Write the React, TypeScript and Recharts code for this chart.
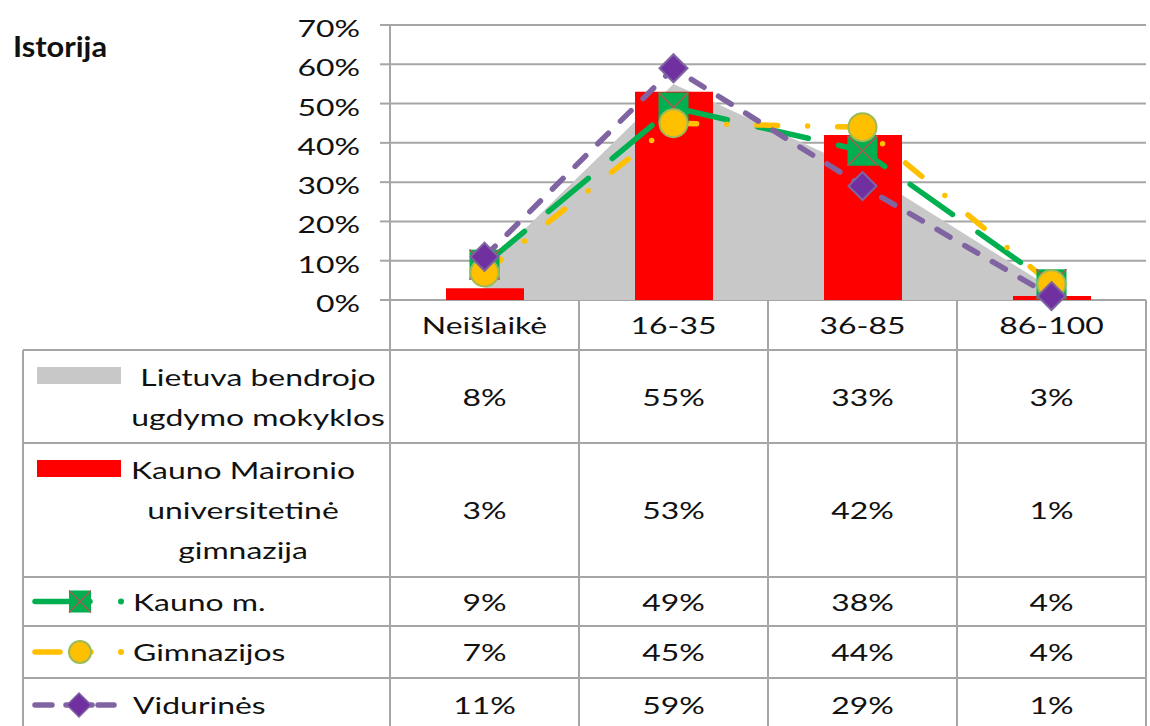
import React from "react";
import { ComposedChart, Area, Bar, Line, XAxis, YAxis, CartesianGrid } from "recharts";

const categories = ["Neišlaikė", "16-35", "36-85", "86-100"];
const lietuva = [0.08, 0.55, 0.33, 0.03];
const maironio = [0.03, 0.53, 0.42, 0.01];
const kaunas = [0.09, 0.49, 0.38, 0.04];
const gimnazijos = [0.07, 0.45, 0.44, 0.04];
const vidurines = [0.11, 0.59, 0.29, 0.01];
const yTicks = [0, 0.1, 0.2, 0.3, 0.4, 0.5, 0.6, 0.7];

const seriesLabels = [
  ["Lietuva bendrojo", "ugdymo mokyklos"],
  ["Kauno Maironio", "universitetinė", "gimnazija"],
  ["Kauno m."],
  ["Gimnazijos"],
  ["Vidurinės"],
];
const seriesValues = [lietuva, maironio, kaunas, gimnazijos, vidurines];

const W = 1150;
const H = 726;
const FONT = "Lato, 'Noto Sans', sans-serif";
const SX = 1.33;
const FS = 24;
const WEIGHT = 400;
const GRID = "#A6A6A6";

const GREEN = "#00B050";
const YELLOW = "#FFC000";
const PURPLE = "#8064A2";

const data = categories.map((c, i) => ({
  name: c,
  lietuva: lietuva[i],
  maironio: maironio[i],
  kaunas: kaunas[i],
  gimnazijos: gimnazijos[i],
  vidurines: vidurines[i],
}));

const pct = (v: number) => `${Math.round(v * 100)}%`;

// table geometry
const plotLeft = 390;
const plotRight = 1146;
const plotBottom = 300;
const tableLeft = 23;
const rowY = [300, 350, 443, 577, 626, 678, 740];
const colX = categories.map((_, i) => plotLeft + ((plotRight - plotLeft) / categories.length) * i).concat(plotRight);

function Txt({ x, y, anchor = "middle", size = FS, weight = WEIGHT, sx = SX, children }: any) {
  return (
    <text
      transform={`translate(${x},${y}) scale(${sx},1)`}
      textAnchor={anchor}
      fontFamily={FONT}
      fontSize={size}
      fontWeight={weight}
      fill="#111"
    >
      {children}
    </text>
  );
}

const YTick = ({ x, y, payload }: any) => (
  <Txt x={x} y={y + 12} anchor="end">
    {pct(payload.value)}
  </Txt>
);

const SquareDot = ({ cx, cy }: any) => {
  if (cx == null || cy == null) return null;
  const s = 15;
  return (
    <g>
      <rect x={cx - s} y={cy - s} width={2 * s} height={2 * s} fill={GREEN} />
      <path d={`M${cx - s},${cy - s}L${cx + s},${cy + s}M${cx + s},${cy - s}L${cx - s},${cy + s}`} stroke="#B5584F" strokeWidth={1.5} />
    </g>
  );
};

const CircleDot = ({ cx, cy }: any) => {
  if (cx == null || cy == null) return null;
  return <circle cx={cx} cy={cy} r={14} fill={YELLOW} stroke="#9BBB59" strokeWidth={2} />;
};

const DiamondDot = ({ cx, cy }: any) => {
  if (cx == null || cy == null) return null;
  const s = 14;
  return <path d={`M${cx},${cy - s}L${cx + s},${cy}L${cx},${cy + s}L${cx - s},${cy}Z`} fill="#7030A0" stroke={PURPLE} strokeWidth={2} />;
};

function LegendKey({ idx, cy }: { idx: number; cy: number }) {
  if (idx === 0) return <rect x={37} y={cy - 8} width={84} height={17} fill="#C8C8C8" />;
  if (idx === 1) return <rect x={37} y={cy - 8} width={84} height={17} fill="#FF0000" />;
  if (idx === 2)
    return (
      <g>
        <line x1={35} y1={cy} x2={90} y2={cy} stroke={GREEN} strokeWidth={5.5} strokeLinecap="round" />
        <rect x={69} y={cy - 11} width={22} height={22} fill={GREEN} />
        <path d={`M69,${cy - 11}L91,${cy + 11}M91,${cy - 11}L69,${cy + 11}`} stroke="#B5584F" strokeWidth={1.2} />
        <circle cx={121} cy={cy} r={3} fill={GREEN} />
      </g>
    );
  if (idx === 3)
    return (
      <g>
        <line x1={35} y1={cy} x2={60} y2={cy} stroke={YELLOW} strokeWidth={5.5} strokeLinecap="round" />
        <line x1={86} y1={cy} x2={91} y2={cy} stroke={YELLOW} strokeWidth={5.5} strokeLinecap="round" />
        <circle cx={80} cy={cy} r={11} fill={YELLOW} stroke="#9BBB59" strokeWidth={2} />
        <circle cx={121} cy={cy} r={3} fill={YELLOW} />
      </g>
    );
  return (
    <g>
      <line x1={35} y1={cy} x2={52} y2={cy} stroke={PURPLE} strokeWidth={5.5} strokeLinecap="round" />
      <line x1={66} y1={cy} x2={92} y2={cy} stroke={PURPLE} strokeWidth={5.5} strokeLinecap="round" />
      <line x1={98} y1={cy} x2={114} y2={cy} stroke={PURPLE} strokeWidth={5.5} strokeLinecap="round" />
      <path d={`M79,${cy - 12}L91,${cy}L79,${cy + 12}L67,${cy}Z`} fill="#7030A0" stroke={PURPLE} strokeWidth={1.5} />
    </g>
  );
}

function DataTable() {
  const lineH = 40;
  const labelCenters = [258, 243];
  return (
    <svg width={W} height={H} style={{ position: "absolute", left: 0, top: 0 }}>
      {/* horizontal lines */}
      <line x1={plotLeft} y1={rowY[0]} x2={plotRight} y2={rowY[0]} stroke={GRID} strokeWidth={2} />
      {rowY.slice(1, -1).map((y) => (
        <line key={y} x1={tableLeft} y1={y} x2={plotRight} y2={y} stroke={GRID} strokeWidth={2} />
      ))}
      {/* vertical lines */}
      <line x1={tableLeft} y1={rowY[1]} x2={tableLeft} y2={H} stroke={GRID} strokeWidth={2} />
      {colX.map((x) => (
        <line key={x} x1={x} y1={rowY[0]} x2={x} y2={H} stroke={GRID} strokeWidth={2} />
      ))}
      {/* header */}
      {categories.map((c, i) => (
        <Txt key={c} x={(colX[i] + colX[i + 1]) / 2} y={(rowY[0] + rowY[1]) / 2 + 9}>
          {c}
        </Txt>
      ))}
      {/* rows */}
      {seriesLabels.map((lines, r) => {
        const top = rowY[r + 1];
        const bottom = rowY[r + 2];
        const mid = r === 4 ? 705 : (top + bottom) / 2;
        const firstY = mid - ((lines.length - 1) * lineH) / 2;
        return (
          <g key={r}>
            <LegendKey idx={r} cy={lines.length > 1 ? top + 25 : mid} />
            {lines.map((t, k) =>
              lines.length > 1 ? (
                <Txt key={k} x={labelCenters[r]} y={firstY + k * lineH + 9}>
                  {t}
                </Txt>
              ) : (
                <Txt key={k} x={133} y={mid + 9} anchor="start">
                  {t}
                </Txt>
              )
            )}
            {seriesValues[r].map((v, i) => (
              <Txt key={i} x={(colX[i] + colX[i + 1]) / 2} y={mid + 9}>
                {pct(v)}
              </Txt>
            ))}
          </g>
        );
      })}
    </svg>
  );
}

export default function App() {
  return (
    <div style={{ position: "absolute", left: 0, top: 0, width: W, height: H, background: "#fff", overflow: "hidden" }}>
      <DataTable />
      <svg width={W} height={80} style={{ position: "absolute", left: 0, top: 0 }}>
        <Txt x={13} y={57} anchor="start" size={28} weight={700} sx={1.1}>
          Istorija
        </Txt>
      </svg>
      <div style={{ position: "absolute", left: 0, top: 0 }}>
        <ComposedChart width={W} height={plotBottom + 40} data={data} margin={{ top: 25, right: W - plotRight, bottom: 40, left: 0 }}>
          <CartesianGrid horizontal vertical={false} stroke={GRID} strokeWidth={2} />
          <XAxis dataKey="name" hide />
          <YAxis
            width={plotLeft}
            domain={[0, 0.7]}
            ticks={yTicks}
            interval={0}
            axisLine={{ stroke: GRID, strokeWidth: 2 }}
            tickLine={{ stroke: GRID, strokeWidth: 2 }}
            tickSize={10}
            tickMargin={20}
            tick={<YTick />}
          />
          <Area type="linear" dataKey="lietuva" fill="#C8C8C8" fillOpacity={1} stroke="none" isAnimationActive={false} />
          <Bar dataKey="maironio" fill="#FF0000" barSize={78} isAnimationActive={false} />
          <Line
            type="linear"
            dataKey="kaunas"
            stroke={GREEN}
            strokeWidth={5.5}
            strokeDasharray="52 31"
            strokeLinecap="round"
            dot={<SquareDot />}
            activeDot={false}
            isAnimationActive={false}
          />
          <Line
            type="linear"
            dataKey="gimnazijos"
            stroke={YELLOW}
            strokeWidth={5.5}
            strokeDasharray="21 30 0 30"
            strokeLinecap="round"
            dot={<CircleDot />}
            activeDot={false}
            isAnimationActive={false}
          />
          <Line
            type="linear"
            dataKey="vidurines"
            stroke={PURPLE}
            strokeWidth={5.5}
            strokeDasharray="15 17"
            strokeLinecap="round"
            dot={<DiamondDot />}
            activeDot={false}
            isAnimationActive={false}
          />
        </ComposedChart>
      </div>
    </div>
  );
}
